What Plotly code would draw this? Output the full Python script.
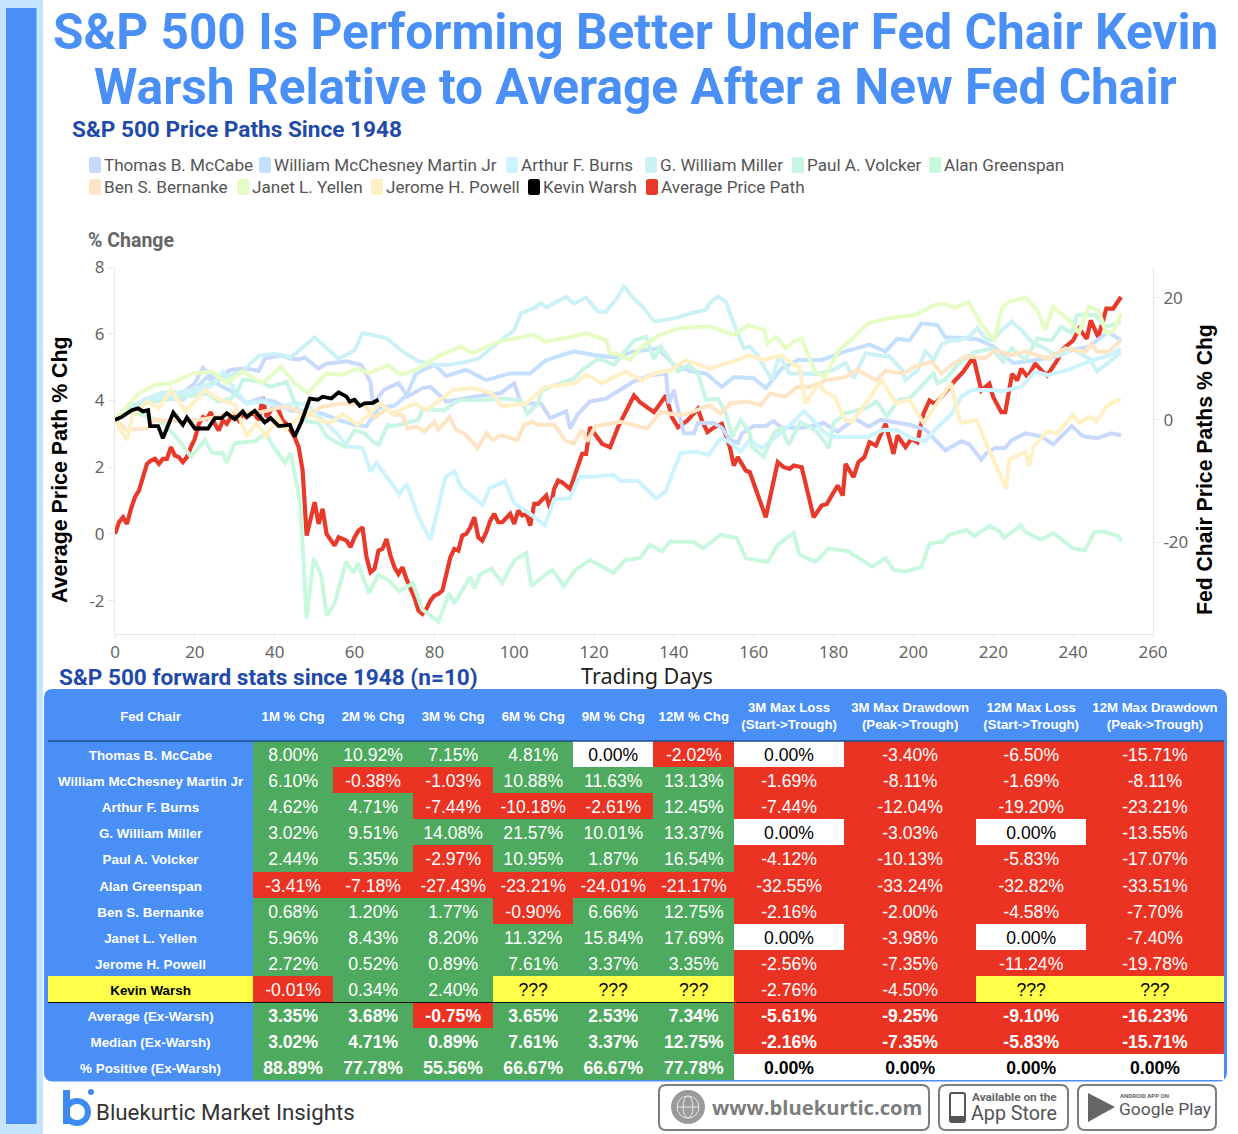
import plotly.graph_objects as go

W, H = 1238, 1134
BLUE = "#4a8ff5"
NAVY = "#1f4aa8"
GREEN = "#4eaa5e"
RED = "#ea3323"
YELLOW = "#ffff4a"
PLEX = "Noto Sans, sans-serif"
ARIAL = "Liberation Sans, Arial, sans-serif"

# ---------------- price paths: (trading day, % change) ----------------
mccabe_days = [0,4,8,12,16,20,22,25,29,33,36,37.5,41.7,44,46,47.5,51,53,58,61.7,64,64.6,67.5,71,73.3,77,79,83,91.7,96.7,100,101.7,106.7,109,113,114,116,119,123,130,134,138,138.7,140,140.7,142.5,145,146,150,152,154,156,157,160,163,165,167,172,175,177.5,181,185.4,188.8,191.7,194.6,199,203,207,208,212,214,217,218.3,220.4,223,224.6,228,232,235,239.6,242.5,246,249.6,252]
mccabe_vals = [0,2.2,3.3,4.4,3.9,6,8.5,6.6,8.2,8.4,8,10,10.6,10,9.9,10.2,8.4,9.2,9.6,9,6.2,2.5,5,6,3.8,5.2,5.4,3,4,4.4,6,2.7,2.7,0.3,1.4,-1.4,1,3,3.5,6.3,7.3,7.6,2.7,4.9,2.7,-2.2,-2.2,-0.5,-0.5,-1.3,-3.2,-3.8,-2.2,-1,-1,-0.2,-1.3,-1.3,-1,-0.5,-1.9,0.2,-1.1,0,-0.3,-0.8,-1.6,-4.3,-5,-3.5,-4,-6.5,-5.4,-4.6,-4.6,-3.3,-2.2,-2.7,-4,-1,-2.7,-3,-2.2,-2.5]

martin_days = [0,4,8,12,17,20,23,27,30,33,36,40,44,48,52,56,60,63,66,70,73,75.4,80,83,88,93,99,104,108,115,120,125,130,136,140,144,148,152,155,160,163,167,171,177,183,189,193,196,199,202,206,208,212,216,220,225,230,236,240,244,248.7,252]
martin_vals = [0,2,3.3,3.8,3.3,4.9,7,5.4,4.4,2.7,3.5,3,1.5,1.5,1,0,-0.8,-1,2,2.3,4,7.6,9,7.2,8.2,6.5,7.6,7.6,9.8,11.2,10.6,10.2,11.2,11.7,9,8,7.6,5.4,7,6.8,5.2,8.4,9.8,9.8,11.2,12.3,11.2,13.3,13,15.8,15.5,13.5,13.4,13.2,12,9.3,9.7,10.4,11.5,12,14.4,13]

burns_days = [0,4,8,14,20,24,27,30,33,37,41,45,48,52,56,58,60,62,64,65.5,69.4,71.3,73,76,79,82.8,85,86.6,92,93.8,97.6,100,103.8,107.7,110,113.9,116.3,119,124.9,126.8,131,135.5,137.9,141.7,145.4,148.7,151.7,153.7,156.7,159,162,165,168.7,172.5,174,177.5,180,183.3,188.3,192.5,196,199.6,203,205.4,209.6,212,214.6,219.6,222,227,230.4,233.7,238.7,243.7,246,249.6,252]
burns_vals = [0,2,3.5,4,4.5,5.5,7.8,5,2.7,3,2,2.8,2.5,0,-2.5,-4.4,-4.4,-4.6,-8.4,-7,-10.4,-12.2,-10.4,-15.8,-19.6,-9.3,-8.4,-10.9,-13.9,-11.2,-10,-13.6,-15.3,-17.2,-13,-12.8,-9.3,-9.3,-9,-10,-10,-12.8,-11.7,-5.4,-5.2,-5.7,-3,-3.5,-5.2,-3.3,-4.6,-3,-1.1,1.4,0.5,-2,-2.8,-2.8,-2.8,-1.6,-1.7,-3,-3.5,-1.6,1,3.8,4.9,4.9,4.7,5.4,7.9,7.3,8.2,9.5,10,10.7,11.7]

miller_days = [0,4,8,12,16,20,24,28,32,36,40,44,48,50,56,60,62,68,72,76,80,84,88,91,96.7,100,101.7,105,106.7,108,113,115,118,121,123,126,127.5,130,132.5,135,140,144,148,149,151,153,155,157.5,159,161,163,164.6,166,167,169,172,176,180,183,185,188,192.5,194,197,198,199.6,201,203,205,207,209,211,214,216,218,220,221.7,224.6,227,230,232,236,240,244,246,252]
miller_vals = [0,2.2,3.5,4.5,4.5,5,6,7,8,10.5,10.8,10.2,12.5,13.5,10,11.4,14.2,13.4,11.2,9.6,9,9,9.5,10,13,14.7,17.4,18.3,19.1,18.4,20.1,19,20,17.7,17.7,20.2,21.8,19.8,18.3,16.1,16.6,17.4,18,19.1,20.2,19.3,15.8,11.7,12,10.6,8.2,6.5,9.8,9.8,7.6,7.5,7.5,8.2,9.3,6.8,10.9,10.4,10.4,8.3,6.5,7.4,8,11.2,9.8,12.3,13,13,13.6,15,13.3,13,14.4,16.1,14.7,12.5,12,10.5,11.5,10,8,11]

volcker_days = [0,4,8,12,16.7,20,23,26,29,31,32,36,39,43,45,48,51,53,57.5,60,62.5,65,66,68.3,70,76,77,82.5,86,91,97,101.7,103.3,106,106.7,109,115,117.5,121,123.3,125,127.5,130,133,135,136.7,139,141,143.8,146,148,151,153,154.6,156.7,159,159.6,162.5,165,167,168.7,171.7,175.8,178.8,180,183,185,188,190.8,193.3,196.3,199,205,206,208,211,215,219.6,222.5,224.6,228,231,234.6,237,239.6,241,245.4,248,252]
volcker_vals = [0,1.8,2.8,3.2,3.6,4,4.3,3,3.5,5,6.6,6.3,5.4,6.2,2.8,-0.2,-0.5,-2.7,-4.4,-1.7,-2.2,-3.8,-4.1,-0.8,-1,0,1.8,1.6,3.2,3.2,3.5,3.2,1,2.7,4.6,5.4,6.8,8.4,10,9.5,9,11,13,13.6,10,12,9.8,7.9,9,7.6,3.3,3.5,1.1,-2.8,0,-2.2,-4.4,-6,-2.2,-1.3,-4.1,-0.3,-1.9,-4.6,-0.5,1.1,1.4,1.9,3,0.6,3.3,3.5,7.6,6,6.6,9,11,11.7,9.5,11.7,9.8,13.3,13,15.2,14.2,17.2,17.2,15.2,16]

greenspan_days = [0,4,8,12,16,19,22.5,24.4,27,28,30,35,37.8,39.7,42.6,44,46.4,48,49.8,51.7,53,55,57.9,59.8,60.8,63.6,66,68.4,71.3,74.6,77,79.4,81,83.7,85,87.6,89,90,91.4,94.3,97,100,103,104.3,105.7,109.6,112.4,115.3,119,124.9,127.8,131.5,134,137,139,144.8,147.3,151.7,155.7,158,163.5,166,170,171.4,175.4,178.8,183.7,189.7,193,195,198,202,204,207.4,208.9,213.3,215.3,219,221.7,222.7,227,228,232,235,240,242.9,245.4,247.8,251.3,252]
greenspan_vals = [0,1.5,0.6,-0.5,-3.3,-6,-3.3,-5.4,-5.4,-7,-3.8,-3.5,-2.2,-4.4,-7,-5.4,-13.6,-32.4,-22.6,-25.6,-32,-30,-23.2,-25,-23.4,-28.3,-25.3,-26.2,-28,-26.7,-31,-32.2,-33,-28.3,-30,-27.2,-25.6,-27.5,-25.3,-24.3,-26.7,-22.9,-21.8,-27.2,-26.4,-24.5,-27.2,-24.5,-22.9,-25,-22.9,-22.6,-20.4,-21.5,-19.9,-19.9,-21,-18.8,-19.3,-22.6,-23.2,-20.4,-18.5,-22,-23.2,-21,-21.5,-24,-22.6,-24.5,-24.8,-24,-20.2,-19.9,-18.8,-18,-19,-17.3,-18.3,-19.3,-17.2,-18.3,-19.6,-18.5,-21,-21.3,-18.3,-18.3,-19,-19.9]

bernanke_days = [0,3,8,10,17,24,30,36,41.7,44,48,51.7,56.7,62.5,65,68,70,72,73.3,75.4,77.5,80,81,83.8,85.4,87.5,90.8,93,94.6,96.7,100.8,102.5,104.6,105.8,110,113,115,117,118.3,120.4,126.7,130,133.3,136.7,140.8,143.3,149,151.7,154,158.3,161.7,164,168,170.8,174,178,183,185.8,188,190.8,193,197.5,200.4,204.6,207,209.6,213,218,220.4,224.6,228,233.7,238,243,244.6,246,248.7,252]
bernanke_vals = [0,-1.6,-1.4,0,-0.3,0.3,1.2,1.2,2.1,2,0.6,2.1,2.7,2.5,0.3,1.9,0.8,0.8,-1.4,-1.1,-1.9,-0.3,-1.6,0.5,-1.6,-2.2,-4.6,-2.2,-3.3,-2.5,-3.3,-0.8,-0.3,-0.8,-0.8,-3.5,-3.8,-1.6,-3.5,-1,-0.3,-0.9,-1.4,1.3,0.8,1,2.4,1,2.7,3,2.4,4.3,3.8,5.4,5.4,6.5,7,8.2,7.4,6.5,8,7.6,8.7,9.5,7.6,9,10.4,10.1,11.4,10.6,11.2,10,11.7,11.1,12.5,11.2,11.1,13]

yellen_days = [0,6,10,14,19.6,24.4,28,32,37,41.6,45,48.3,53,57,60.8,63.6,68.4,71.3,75.6,80.9,86.6,89.5,96,104.8,107.7,114.4,118,123,124,126,129,131.5,136.4,141.4,149,155,158.6,162.5,163.5,165.5,168,170,171.9,174,175.4,177.8,181.3,185.7,188.7,193.6,200.4,205.4,207.8,210.3,213.8,216.8,220.2,222.2,224,228,231,233,235,239,241.4,243.9,246.3,248.3,250,252]
yellen_vals = [0,4.4,5.7,6,7.6,7.9,6,7.9,6,8.7,6,4.4,7.6,7.4,8.4,7.6,9,7.4,8.2,10.4,12,10.9,12.8,13.9,12.8,13.6,14.2,13,10.9,10.8,9.8,11.7,13.9,15,15.3,13.9,15.5,14.7,12.5,13.6,11.7,12.8,13.3,9.8,7.9,7,11.4,13.9,15.8,16.6,17.2,18.8,19,18.3,19.3,15.8,13,18.3,19.3,20,18,14.7,18.5,16.3,14.2,18.5,18,14.2,14.4,17.4]

powell_days = [0,3,4.3,8,11,14,17.7,22.5,26.3,30,33,35.5,37.8,40.7,42.6,48.3,51,54,57,60.8,66.5,69.4,75,78,84.7,89.5,94.3,97,103,107.7,115.3,118,122,127.8,132,134.9,139.4,142.9,149,156,158.6,162.5,167,170,171.4,172.9,174.9,176.4,177.8,180.2,182.8,184.7,188.7,192,195.6,199,202.5,205.4,209.4,211.8,215.8,218.2,223.2,224,228,229,230,233.5,236,240,241.4,244.3,245.8,248.3,251.3,252]
powell_vals = [0,-3.3,0.5,3,1.9,4.9,1.4,4.9,3.3,2.5,-2.7,-0.5,-2.7,0.5,-1.6,1.6,0,-0.5,1,-0.8,2.7,1,2.7,1.6,4.9,5.2,4.4,2.2,2.7,5.4,6,7.4,6,7.9,6.5,7.6,8.2,9.8,8.4,9.8,10.6,9.8,10.6,9,8.7,2.7,4.6,6,4.6,3.8,0,-0.3,3.3,6.5,2.7,3.3,-0.5,2.2,6,-0.5,0,-3.8,-11.2,-6.5,-5.2,-7.6,-4.4,-1.9,-2.2,0.8,-0.5,0.5,-0.3,2.2,3.3,3.2]

warsh_days = [0,1.7,4.2,5.8,7,8.3,8.8,10.8,12,13.3,14.6,17,18,20,23.3,25,26.7,28,30,32,33,35,37.5,39,41,43.8,45,46.7,48.8,50.8,52,54.2,56,58,58.8,60,61.3,62.5,64.6,66]
warsh_vals = [0,0.5,1.6,1.9,1.4,1.6,-1,-1,-3,-0.8,1.2,-0.8,0.4,-1.4,-1.4,0.3,0.3,1.1,0.1,1.4,0.5,1.5,-0.4,0.3,-1,-0.8,-2.7,-0.3,3.5,3.3,3.8,3.5,4.5,3.8,3,3.3,2.3,2.7,2.8,3.3]

average_days = list(range(0,120)) + [122,124,126,128,130,131.5,135,138,139.5,141,143.4,146,147,148.4,150.2,152,154,155,156,158,159,163,164.5,166,167.5,169,170,172,175,177,178.3,181,182.3,183,185,186.2,187.7,189,190.6,193,195,196,198,199.5,201,202.5,204,205.4,207,209,210.4,212.4,215,217,219,220,222,223,224.7,226,227,228.6,230.5,232.5,233.5,236,237.5,240,241.5,243.4,244.4,246.3,248.3,250,252]
average_vals = [0,.35,.5,.3,.75,1.1,1.3,1.7,2.1,2.2,2.25,2.1,2.25,2.25,2.6,2.35,2.3,2.15,2.3,2.6,2.85,3.3,3.5,3.45,3.65,3.3,3.1,3.4,3.3,3.5,3.55,3.4,3.6,3.5,3.6,3.6,3.4,4.1,3.5,3.7,3.8,3.7,3.4,3.3,3.1,2.9,2.6,1.9,-.05,.4,.95,.3,.75,0,-.2,-.35,-.1,-.15,-.2,-.4,-.1,.1,.2,-.7,-1.15,-1.05,-.5,-.45,-.15,-.65,-1,-1.2,-1,-1.35,-1.6,-1.9,-2.3,-2.4,-2.25,-2,-1.85,-1.8,-1.7,-1.2,-.7,-.45,-.5,-.05,0,.2,.5,-.1,-.2,.05,.4,.6,.35,.35,.5,.6,.3,.7,.55,.6,.25,.9,.9,1.05,1.15,.75,1.35,1.6,1.55,1.45,1.35,1.7,2.1,2.4,2.4,3.2,
    2.7,2.6,3.2,3.7,4.15,3.95,3.65,4.15,3.5,3.2,3.4,3.75,3.4,3.05,3.2,3.3,2.6,2.05,2.3,1.9,1.85,.5,1.3,2.15,2,1.95,2.05,2,.5,.85,.9,1.45,1.15,2.1,1.7,2.15,2.3,2.75,2.65,3.3,2.4,2.95,2.6,2.85,2.75,3.6,4,3.9,4.1,4.4,4.6,4.85,5.3,4.3,4.5,4.1,3.65,3.65,4.8,4.6,4.95,4.7,5.1,4.85,4.75,5.2,5.55,5.8,6.15,5.85,6.4,5.9,6.75,6.75,7.1]

chair_names = ["Thomas B. McCabe","William McChesney Martin Jr","Arthur F. Burns","G. William Miller","Paul A. Volcker","Alan Greenspan","Ben S. Bernanke","Janet L. Yellen","Jerome H. Powell"]
chair_colors = ["#c9d9fb","#c5e0ff","#ccf4ff","#ccf2f5","#c9f5e5","#c8f9de","#fde5c5","#e5fdc5","#fff1c5"]
chair_days = [mccabe_days,martin_days,burns_days,miller_days,volcker_days,greenspan_days,bernanke_days,yellen_days,powell_days]
chair_vals = [mccabe_vals,martin_vals,burns_vals,miller_vals,volcker_vals,greenspan_vals,bernanke_vals,yellen_vals,powell_vals]

# ---------------- forward-stats table ----------------
table_headers = ["Fed Chair","1M % Chg","2M % Chg","3M % Chg","6M % Chg","9M % Chg","12M % Chg","3M Max Loss<br>(Start->Trough)","3M Max Drawdown<br>(Peak->Trough)","12M Max Loss<br>(Start->Trough)","12M Max Drawdown<br>(Peak->Trough)"]
row_labels = chair_names + ["Kevin Warsh","Average (Ex-Warsh)","Median (Ex-Warsh)","% Positive (Ex-Warsh)"]
m1 = [8.00,6.10,4.62,3.02,2.44,-3.41,0.68,5.96,2.72,-0.01,3.35,3.02,88.89]
m2 = [10.92,-0.38,4.71,9.51,5.35,-7.18,1.20,8.43,0.52,0.34,3.68,4.71,77.78]
m3 = [7.15,-1.03,-7.44,14.08,-2.97,-27.43,1.77,8.20,0.89,2.40,-0.75,0.89,55.56]
m6 = [4.81,10.88,-10.18,21.57,10.95,-23.21,-0.90,11.32,7.61,None,3.65,7.61,66.67]
m9 = [0.00,11.63,-2.61,10.01,1.87,-24.01,6.66,15.84,3.37,None,2.53,3.37,66.67]
m12 = [-2.02,13.13,12.45,13.37,16.54,-21.17,12.75,17.69,3.35,None,7.34,12.75,77.78]
loss3 = [0.00,-1.69,-7.44,0.00,-4.12,-32.55,-2.16,0.00,-2.56,-2.76,-5.61,-2.16,0.00]
dd3 = [-3.40,-8.11,-12.04,-3.03,-10.13,-33.24,-2.00,-3.98,-7.35,-4.50,-9.25,-7.35,0.00]
loss12 = [-6.50,-1.69,-19.20,0.00,-5.83,-32.82,-4.58,0.00,-11.24,None,-9.10,-5.83,0.00]
dd12 = [-15.71,-8.11,-23.21,-13.55,-17.07,-33.51,-7.70,-7.40,-19.78,None,-16.23,-15.71,0.00]
value_columns = [m1,m2,m3,m6,m9,m12,loss3,dd3,loss12,dd12]
column_widths = [205,80,80,80,80,80,81,109.5,132.5,109.5,138]

def px(x): return x / W
def py(y): return 1 - y / H

def rrect(x0, y0, x1, y1, r):
    a, b, c, d = px(x0), py(y0), px(x1), py(y1)
    rx, ry = r / W, r / H
    return (f"M{a+rx},{b} L{c-rx},{b} Q{c},{b} {c},{b-ry} L{c},{d+ry} Q{c},{d} {c-rx},{d} "
            f"L{a+rx},{d} Q{a},{d} {a},{d+ry} L{a},{b-ry} Q{a},{b} {a+rx},{b} Z")

fig = go.Figure()

fig.add_trace(go.Scatter(x=average_days, y=average_vals, name="Average Price Path", mode="lines",
                         line=dict(color="#e83a2b", width=4.2), yaxis="y", showlegend=False))
for nm, col, d, v in zip(chair_names, chair_colors, chair_days, chair_vals):
    fig.add_trace(go.Scatter(x=d, y=v, name=nm, mode="lines", line=dict(color=col, width=4),
                             yaxis="y2", showlegend=False))
fig.add_trace(go.Scatter(x=warsh_days, y=warsh_vals, name="Kevin Warsh", mode="lines",
                         line=dict(color="#000000", width=3.8), yaxis="y2", showlegend=False))

# ---- table as a heatmap of cell colours with a text layer on its own axes ----
CODE_BLUE, CODE_GREEN, CODE_RED, CODE_WHITE, CODE_YELLOW = 0.5, 1.5, 2.5, 3.5, 4.5
def cell_code(v):
    if v is None: return CODE_YELLOW
    if v > 0: return CODE_GREEN
    if v < 0: return CODE_RED
    return CODE_WHITE

n_rows = len(row_labels)
edges = [0]
for w in column_widths:
    edges.append(edges[-1] + w)
centers = [(a + b) / 2 for a, b in zip(edges[:-1], edges[1:])]
row_edges = list(range(n_rows + 1))
row_mid = [i + 0.6 for i in range(n_rows)]
HEADER_ROWS = 50 / 26.1

z = []
for i, r in enumerate(row_labels):
    first = CODE_YELLOW if r == "Kevin Warsh" else CODE_BLUE
    z.append([first] + [cell_code(col[i]) for col in value_columns])

stops = [BLUE, GREEN, RED, "#ffffff", YELLOW]
colorscale = []
for k, c in enumerate(stops):
    colorscale += [[k / 5, c], [(k + 1) / 5, c]]

fig.add_trace(go.Heatmap(x=edges, y=row_edges, z=z, zmin=0, zmax=5, colorscale=colorscale, showscale=False,
                         hoverinfo="skip", xaxis="x2", yaxis="y3"))

tx, ty, ts, tc, tz = [], [], [], [], []
for h, c in zip(table_headers, centers):
    tx.append(c); ty.append(-HEADER_ROWS / 2 + 0.06); ts.append(f"<b>{h}</b>"); tc.append("#ffffff"); tz.append(13.2)
for i, r in enumerate(row_labels):
    tx.append(centers[0]); ty.append(row_mid[i]); ts.append(f"<b>{r}</b>")
    tc.append("#000000" if r == "Kevin Warsh" else "#ffffff"); tz.append(13.4)
for c, col in zip(centers[1:], value_columns):
    for i, v in enumerate(col):
        s = "???" if v is None else f"{v:.2f}%"
        tx.append(c); ty.append(row_mid[i]); ts.append(f"<b>{s}</b>" if i >= n_rows - 3 else s)
        tc.append("#000000" if (v is None or v == 0) else "#ffffff"); tz.append(17.6)
fig.add_trace(go.Scatter(x=tx, y=ty, text=ts, mode="text", textposition="middle center", hoverinfo="skip",
                         textfont=dict(family=ARIAL, color=tc, size=tz), xaxis="x2", yaxis="y3",
                         showlegend=False, cliponaxis=False))

shapes = [
    dict(type="rect", xref="paper", yref="paper", x0=0, x1=px(43), y0=0, y1=1, fillcolor="#c4e4ff", line=dict(width=0), layer="below"),
    dict(type="rect", xref="paper", yref="paper", x0=px(6), x1=px(36.5), y0=py(1124), y1=py(8), fillcolor=BLUE, line=dict(width=0), layer="below"),
    dict(type="path", xref="paper", yref="paper", path=rrect(44, 689, 1227, 1081.5, 9), fillcolor=BLUE, line=dict(width=0), layer="below"),
    dict(type="line", xref="paper", yref="paper", x0=px(48), x1=px(1224), y0=py(741), y1=py(741), line=dict(color="#1c4e8f", width=1.5)),
    dict(type="line", xref="paper", yref="paper", x0=px(48), x1=px(1224), y0=py(1002.5), y1=py(1002.5), line=dict(color="#111111", width=1.2)),
]

anns = []
def text(x, y, s, size, color, family=PLEX, anchor="left", bold=False, angle=0):
    if anchor == "left":
        x -= 2
    anns.append(dict(xref="paper", yref="paper", x=px(x), y=py(y), text=f"<b>{s}</b>" if bold else s,
                     showarrow=False, xanchor=anchor, yanchor="middle", textangle=angle,
                     font=dict(size=size, color=color, family=family)))

TITLE = "Roboto, sans-serif"
text(635, 32, "S&P 500 Is Performing Better Under Fed Chair Kevin", 49.6, BLUE, TITLE, "center", True)
text(635, 87, "Warsh Relative to Average After a New Fed Chair", 49.6, BLUE, TITLE, "center", True)
text(72, 130, "S&P 500 Price Paths Since 1948", 22.6, NAVY, TITLE, bold=True)
text(59, 677, "S&P 500 forward stats since 1948 (n=10)", 22.6, NAVY, TITLE, bold=True)
text(88, 240, "% Change", 19.5, "#666666", TITLE, bold=True)
text(647, 675, "Trading Days", 21.6, "#222222", PLEX, "center")
text(60, 470, "Average Price Path % Chg", 21.4, "#000000", ARIAL, "center", True, angle=-90)
text(1205, 470, "Fed Chair Price Paths % Chg", 21.2, "#000000", ARIAL, "center", True, angle=-90)

legend_items = [(89,165,chair_names[0],chair_colors[0]),(259,165,chair_names[1],chair_colors[1]),(506,165,chair_names[2],chair_colors[2]),
                (645,165,chair_names[3],chair_colors[3]),(792,165,chair_names[4],chair_colors[4]),(929,165,chair_names[5],chair_colors[5]),
                (89,187,chair_names[6],chair_colors[6]),(237,187,chair_names[7],chair_colors[7]),(371,187,chair_names[8],chair_colors[8]),
                (528,187,"Kevin Warsh","#000000"),(646,187,"Average Price Path","#e83a2b")]
for x, y, nm, col in legend_items:
    shapes.append(dict(type="path", xref="paper", yref="paper", path=rrect(x, y-8, x+12, y+8, 2.5), fillcolor=col, line=dict(width=0)))
    text(x+15, y, nm, 17.1, "#555555", TITLE)

# footer
GREY = "#7d7d7d"
for x0, x1 in [(659,929),(939,1068),(1078,1216)]:
    shapes.append(dict(type="path", xref="paper", yref="paper", path=rrect(x0, 1085, x1, 1130, 7), fillcolor="#ffffff", line=dict(color=GREY, width=2)))
shapes.append(dict(type="circle", xref="paper", yref="paper", x0=px(671), x1=px(705), y0=py(1124), y1=py(1090), fillcolor="#9a9a9a", line=dict(width=0)))
shapes.append(dict(type="circle", xref="paper", yref="paper", x0=px(677), x1=px(699), y0=py(1118), y1=py(1096), fillcolor="rgba(0,0,0,0)", line=dict(color="#e8e8e8", width=1)))
shapes.append(dict(type="circle", xref="paper", yref="paper", x0=px(683), x1=px(693), y0=py(1118), y1=py(1096), fillcolor="rgba(0,0,0,0)", line=dict(color="#e8e8e8", width=1)))
shapes.append(dict(type="line", xref="paper", yref="paper", x0=px(677), x1=px(699), y0=py(1107), y1=py(1107), line=dict(color="#e8e8e8", width=1)))
shapes.append(dict(type="path", xref="paper", yref="paper", path=rrect(950, 1093, 965, 1122, 2), fillcolor="rgba(0,0,0,0)", line=dict(color="#555555", width=2)))
shapes.append(dict(type="rect", xref="paper", yref="paper", x0=px(950), x1=px(965), y0=py(1122), y1=py(1116), fillcolor="#555555", line=dict(width=0)))
shapes.append(dict(type="path", xref="paper", yref="paper", path=f"M{px(1088)},{py(1093)} L{px(1115)},{py(1107)} L{px(1088)},{py(1122)} Z", fillcolor="#666666", line=dict(width=0)))
text(712, 1107, "www.bluekurtic.com", 20.2, GREY, "Open Sans, sans-serif", bold=True)
text(972, 1097, "Available on the", 11.8, "#666666", TITLE, bold=True)
text(971, 1113, "App Store", 19.7, "#555555", TITLE)
text(1120, 1095, "ANDROID APP ON", 6, "#666666", TITLE, bold=True)
text(1119, 1109, "Google Play", 17.4, "#555555", TITLE)
text(96, 1112, "Bluekurtic Market Insights", 22.3, "#333333", "Liberation Sans Narrow, Roboto, sans-serif")

# logo mark
LOGO = "#3d8bf0"
shapes.append(dict(type="rect", xref="paper", yref="paper", x0=px(63), x1=px(70), y0=py(1124), y1=py(1090), fillcolor=LOGO, line=dict(width=0)))
shapes.append(dict(type="circle", xref="paper", yref="paper", x0=px(66), x1=px(88), y0=py(1123), y1=py(1101), fillcolor="rgba(0,0,0,0)", line=dict(color=LOGO, width=6)))
shapes.append(dict(type="circle", xref="paper", yref="paper", x0=px(88), x1=px(94), y0=py(1095), y1=py(1089), fillcolor=LOGO, line=dict(width=0)))

AX = "#e8e8e8"
TICKF = dict(size=17, color="#666666", family=PLEX)
left_ticks = [-2, 0, 2, 4, 6, 8]
right_ticks = [-20, 0, 20]
fig.update_layout(
    width=W, height=H, margin=dict(l=0, r=0, t=0, b=0, pad=0, autoexpand=False), paper_bgcolor="#ffffff", plot_bgcolor="rgba(0,0,0,0)",
    showlegend=False, shapes=shapes, annotations=anns,
    xaxis=dict(domain=[px(115), px(1153)], range=[0, 260], tick0=0, dtick=20, showgrid=False, zeroline=False, automargin=False,
               showline=True, linecolor=AX, linewidth=1, ticks="outside", ticklen=3, tickcolor=AX, tickfont=TICKF, anchor="y"),
    yaxis=dict(domain=[py(634), py(267)], range=[-3, 8], tickvals=left_ticks, ticktext=[str(t) for t in left_ticks], automargin=False,
               showgrid=False, zeroline=False, showline=True, linecolor=AX, linewidth=1, ticks="outside", ticklen=6,
               tickcolor=AX, tickfont=TICKF, anchor="x"),
    yaxis2=dict(domain=[py(634), py(267)], range=[-35, 25], tickvals=right_ticks, ticktext=[str(t) for t in right_ticks], automargin=False,
                overlaying="y", side="right", anchor="x", showgrid=False, zeroline=False, showline=True, linecolor=AX,
                linewidth=1, ticks="outside", ticklen=6, tickcolor=AX, tickfont=TICKF),
    xaxis2=dict(domain=[px(48), px(1224)], range=[edges[0], edges[-1]], visible=False, anchor="y3", fixedrange=True, automargin=False),
    yaxis3=dict(domain=[py(1080.3), py(691)], range=[n_rows, -HEADER_ROWS], visible=False, anchor="x2", fixedrange=True, automargin=False),
)

fig.write_html("out.html", config=dict(displayModeBar=False),
               post_script="document.documentElement.style.margin='0';document.body.style.margin='0';document.body.style.overflow='hidden';")
